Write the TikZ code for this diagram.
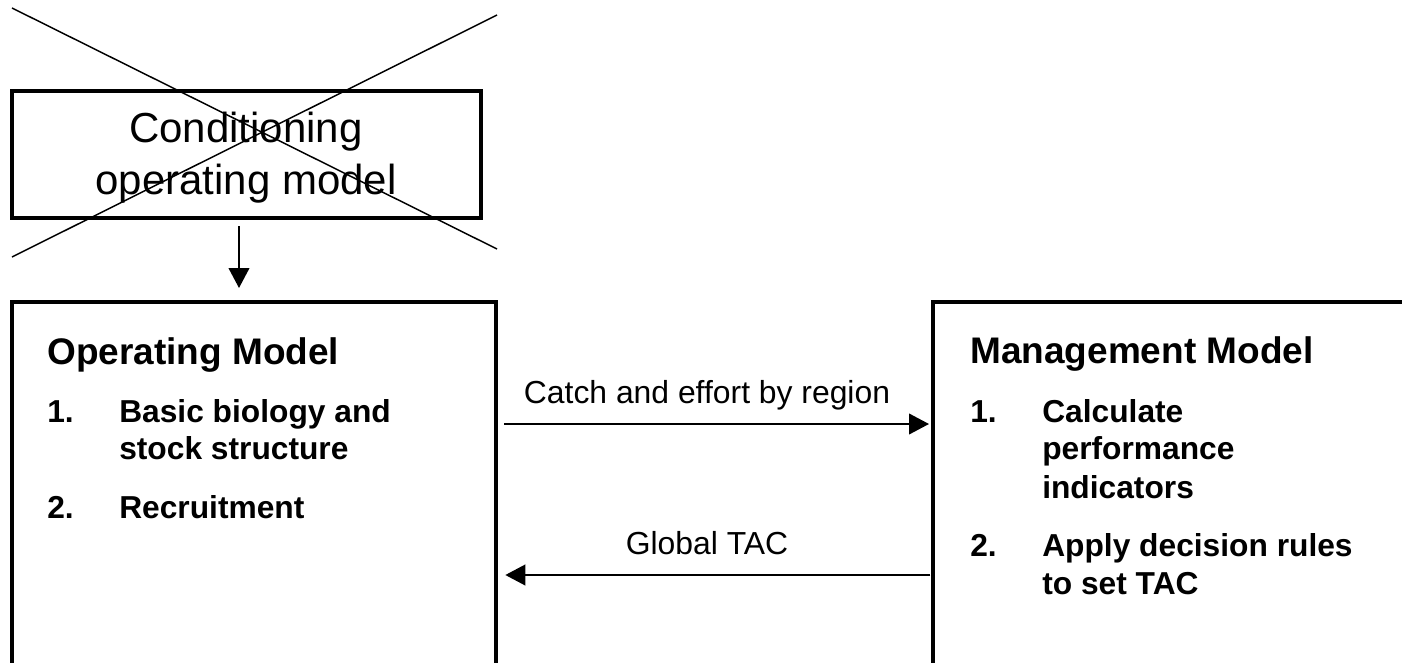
\documentclass[tikz,border=0pt]{standalone}
\usepackage{fontspec}
\setmainfont{Liberation Sans}
\usetikzlibrary{arrows.meta}
\begin{document}
\begin{tikzpicture}[x=0.75pt,y=-0.75pt,
  box/.style={draw, line width=3pt, inner sep=0pt, outer sep=0pt, anchor=north west},
  crossline/.style={line width=1.1pt},
  flow/.style={line width=1.5pt, -{Triangle[length=15pt,width=15.5pt]}},
  cond/.style={anchor=base, inner sep=0pt, font=\fontsize{31.5}{38}\selectfont},
  title/.style={anchor=base west, inner sep=0pt, font=\fontsize{27.75}{33}\selectfont\bfseries},
  item/.style={anchor=base west, inner sep=0pt, font=\fontsize{23.8}{28}\selectfont\bfseries},
  lbl/.style={anchor=base, inner sep=0pt, font=\fontsize{23.9}{28}\selectfont}]
\useasboundingbox (0,0) rectangle (1402,663);
\clip (0,0) rectangle (1402,663);
% crossed-out conditioning box
\node[box, minimum width=351.75pt, minimum height=95.25pt] (condbox) at (12,91) {};
\node[cond] (cond1) at (246,143) {Conditioning};
\node[cond] (cond2) at (246,195) {operating model};
\draw[crossline] (12,8) -- (497,249);
\draw[crossline] (12,257) -- (497,15);
% main boxes
\node[box, minimum width=363pt, minimum height=320pt] (lbox) at (12,302) {};
\node[box, minimum width=390pt, minimum height=320pt] (rbox) at (933,302) {};
% left box text
\node[title] (optitle) at (47,364) {Operating Model};
\node[item] (on1) at (47,422) {1.};
\node[item] (ot1a) at (119,422) {Basic biology and};
\node[item] (ot1b) at (119,459) {stock structure};
\node[item] (on2) at (47,518) {2.};
\node[item] (ot2) at (119,518) {Recruitment};
% right box text
\node[title] (mgtitle) at (970,363) {Management Model};
\node[item] (mn1) at (970,422) {1.};
\node[item] (mt1a) at (1042,422) {Calculate};
\node[item] (mt1b) at (1042,459) {performance};
\node[item] (mt1c) at (1042,498) {indicators};
\node[item] (mn2) at (970,556) {2.};
\node[item] (mt2a) at (1042,556) {Apply decision rules};
\node[item] (mt2b) at (1042,594) {to set TAC};
% connectors
\coordinate (dx) at (239,0);
\draw[flow, shorten <=6pt, shorten >=10.5pt] (condbox.south -| dx) -- (lbox.north -| dx);
\coordinate (y1) at (0,424);
\coordinate (y2) at (0,575);
\draw[flow, shorten <=6pt, shorten >=3pt] (lbox.east |- y1) -- (rbox.west |- y1);
\draw[flow, shorten <=2pt, shorten >=7pt] (rbox.west |- y2) -- (lbox.east |- y2);
\node[lbl] (catch) at (707,403) {Catch and effort by region};
\node[lbl] (gtac) at (707,554) {Global TAC};
\end{tikzpicture}
\end{document}
